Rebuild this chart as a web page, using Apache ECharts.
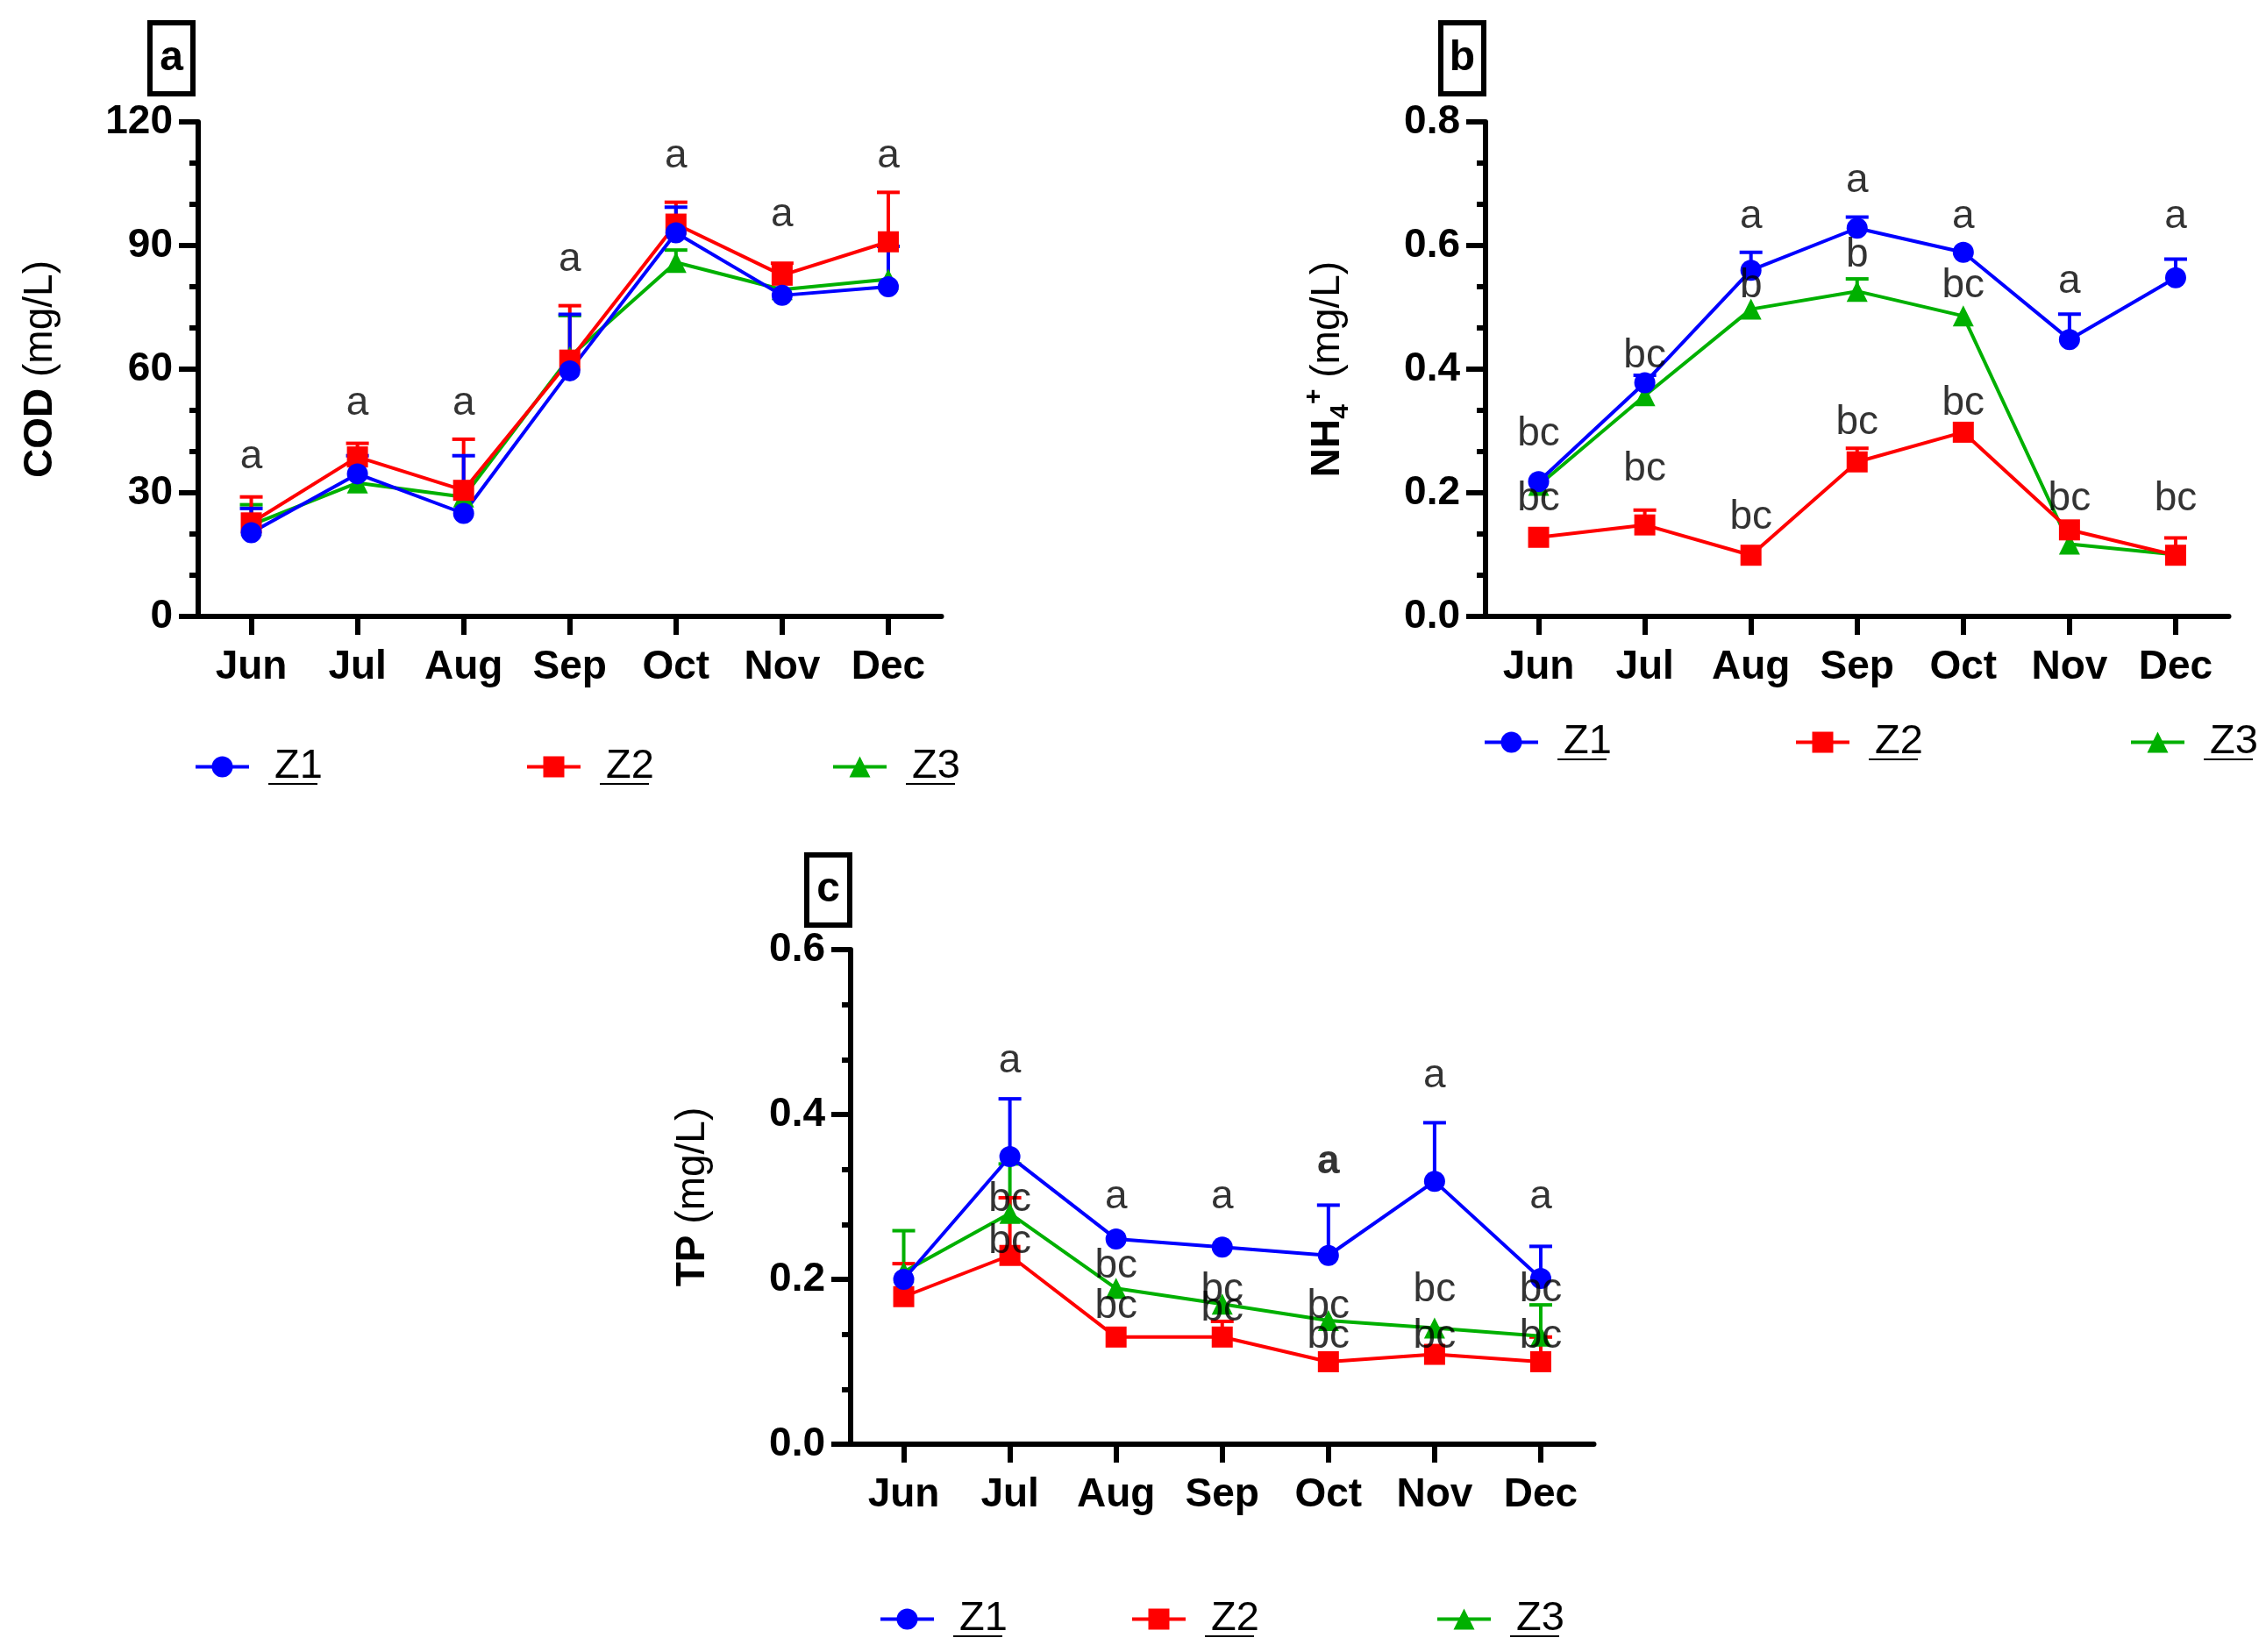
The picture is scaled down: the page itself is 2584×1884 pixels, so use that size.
<!DOCTYPE html>
<html>
<head>
<meta charset="utf-8">
<script src="https://cdn.jsdelivr.net/npm/echarts@6/dist/echarts.min.js"></script>
<style>
html,body{margin:0;padding:0;background:#fff;}
#chart{width:2584px;height:1884px;}
</style>
</head>
<body>
<div id="chart"></div>
<script>
// ---------------- data ----------------
const months = ['Jun','Jul','Aug','Sep','Oct','Nov','Dec'];
const seriesNames = ['Z1','Z2','Z3'];

// COD (mg/L)
const codZ1 = [20.3, 34.6, 25.0, 59.6, 93.1, 77.9, 80.0];
const codZ2 = [22.7, 38.7, 30.6, 62.2, 95.2, 82.8, 90.9];
const codZ3 = [22.2, 32.4, 29.0, 63.0, 85.9, 79.3, 81.8];
const codZ1Up = [26.2, 39.0, 39.0, 73.3, 99.3, null, 89.8];
const codZ2Up = [29.0, 42.0, 43.0, 75.4, 100.5, 85.7, 102.9];
const codZ3Up = [27.1, null, null, 73.0, 88.9, null, null];
const codTicks = ['0','30','60','90','120'];
const codLetters = [['Jun',38.6,'a'],['Jul',51.7,'a'],['Aug',51.7,'a'],['Sep',86.5,'a'],['Oct',111.6,'a'],['Nov',97.3,'a'],['Dec',111.6,'a']];

// NH4+ (mg/L)
const nhZ1 = [0.218, 0.378, 0.560, 0.628, 0.589, 0.448, 0.548];
const nhZ2 = [0.128, 0.148, 0.099, 0.250, 0.298, 0.140, 0.099];
const nhZ3 = [0.212, 0.357, 0.497, 0.526, 0.486, 0.117, 0.100];
const nhZ1Up = [null, 0.390, 0.589, 0.646, null, 0.489, 0.578];
const nhZ2Up = [null, 0.172, null, 0.272, null, null, 0.127];
const nhZ3Up = [null, null, null, 0.546, null, null, null];
const nhTicks = ['0.0','0.2','0.4','0.6','0.8'];
const nhLetters = [
  ['Jun',0.295,'bc'],['Jun',0.189,'bc'],
  ['Jul',0.421,'bc'],['Jul',0.238,'bc'],
  ['Aug',0.647,'a'],['Aug',0.535,'b'],['Aug',0.160,'bc'],
  ['Sep',0.704,'a'],['Sep',0.584,'b'],['Sep',0.313,'bc'],
  ['Oct',0.647,'a'],['Oct',0.535,'bc'],['Oct',0.344,'bc'],
  ['Nov',0.541,'a'],['Nov',0.189,'bc'],
  ['Dec',0.647,'a'],['Dec',0.189,'bc']
];

// TP (mg/L)
const tpZ1 = [0.200, 0.349, 0.249, 0.239, 0.229, 0.319, 0.201];
const tpZ2 = [0.179, 0.229, 0.130, 0.130, 0.100, 0.109, 0.100];
const tpZ3 = [0.209, 0.280, 0.189, 0.170, 0.150, 0.141, 0.131];
const tpZ1Up = [null, 0.419, null, null, 0.290, 0.390, 0.240];
const tpZ2Up = [0.219, 0.299, null, 0.149, null, null, 0.130];
const tpZ3Up = [0.259, 0.340, null, null, null, null, 0.169];
const tpTicks = ['0.0','0.2','0.4','0.6'];
const tpLetters = [
  ['Jul',0.465,'a'],['Jul',0.296,'bc'],['Jul',0.245,'bc'],
  ['Aug',0.300,'a'],['Aug',0.216,'bc'],['Aug',0.167,'bc'],
  ['Sep',0.300,'a'],['Sep',0.187,'bc'],['Sep',0.163,'bc'],
  ['Oct',0.167,'bc'],['Oct',0.131,'bc'],
  ['Nov',0.446,'a'],['Nov',0.187,'bc'],['Nov',0.131,'bc'],
  ['Dec',0.300,'a'],['Dec',0.187,'bc'],['Dec',0.131,'bc']
];
const tpBoldLetters = [['Oct',0.342,'a']];

// ---------------- style ----------------
const F = "'Liberation Sans', Arial, sans-serif";
const colors = {Z1:'#0000FF', Z2:'#FF0000', Z3:'#00B000'};
const symbols = {Z1:'circle', Z2:'rect', Z3:'triangle'};

const panels = [
  {left:226, top:139, max:120, interval:30, ticks:codTicks,
   vals:{Z1:codZ1,Z2:codZ2,Z3:codZ3}, ups:{Z1:codZ1Up,Z2:codZ2Up,Z3:codZ3Up},
   letters:codLetters, bold:[],
   name:'{b|COD} {r|(mg/L)}'},
  {left:1694, top:139, max:0.8, interval:0.2, ticks:nhTicks,
   vals:{Z1:nhZ1,Z2:nhZ2,Z3:nhZ3}, ups:{Z1:nhZ1Up,Z2:nhZ2Up,Z3:nhZ3Up},
   letters:nhLetters, bold:[],
   name:'{b|NH}{sub|4}{sup|+} {r|(mg/L)}'},
  {left:970, top:1083, max:0.6, interval:0.2, ticks:tpTicks,
   vals:{Z1:tpZ1,Z2:tpZ2,Z3:tpZ3}, ups:{Z1:tpZ1Up,Z2:tpZ2Up,Z3:tpZ3Up},
   letters:tpLetters, bold:tpBoldLetters,
   name:'{b|TP} {r|(mg/L)}'}
];

const grids = [], xAxes = [], yAxes = [], series = [];

panels.forEach((p, gi) => {
  grids.push({left:p.left, top:p.top, width:847.5, height:564});
  xAxes.push({
    gridIndex:gi, type:'category', data:months, boundaryGap:true,
    axisLine:{show:true, lineStyle:{color:'#000', width:6}},
    axisTick:{show:true, alignWithLabel:true, length:21, lineStyle:{color:'#000', width:6}},
    axisLabel:{fontFamily:F, fontWeight:'bold', fontSize:46, color:'#000', margin:35},
    splitLine:{show:false}
  });
  yAxes.push({
    gridIndex:gi, type:'value', min:0, max:p.max, interval:p.interval,
    axisLine:{show:true, lineStyle:{color:'#000', width:6}},
    axisTick:{show:true, length:22, lineStyle:{color:'#000', width:6}},
    minorTick:{show:true, splitNumber:3, length:10, lineStyle:{color:'#000', width:6}},
    splitLine:{show:false}, minorSplitLine:{show:false},
    axisLabel:{fontFamily:F, fontWeight:'bold', fontSize:46, color:'#000', margin:29,
      formatter:(v, i) => p.ticks[i]},
    name:p.name, nameLocation:'middle', nameGap:150,
    nameTextStyle:{
      fontFamily:F, fontSize:46, color:'#000',
      rich:{
        b:{fontFamily:F, fontSize:46, fontWeight:'bold', color:'#000', lineHeight:60},
        r:{fontFamily:F, fontSize:46, color:'#000', lineHeight:60},
        sub:{fontFamily:F, fontSize:30, fontWeight:'bold', color:'#000', verticalAlign:'bottom', lineHeight:44},
        sup:{fontFamily:F, fontSize:30, fontWeight:'bold', color:'#000', verticalAlign:'top', lineHeight:30}
      }
    }
  });

  ['Z3','Z2','Z1'].forEach(nm => {
    const col = colors[nm];
    const errData = [];
    p.ups[nm].forEach((u, i) => { if (u != null) errData.push([i, p.vals[nm][i], u]); });
    series.push({
      type:'custom', name:nm + ' SD', xAxisIndex:gi, yAxisIndex:gi, z:2, silent:true,
      encode:{x:0, y:[1,2]},
      data:errData,
      renderItem:(params, api) => {
        const x = api.value(0), m = api.value(1), u = api.value(2);
        const p0 = api.coord([x, m]), p1 = api.coord([x, u]);
        const hw = 13;
        return {type:'group', children:[
          {type:'line', shape:{x1:p0[0], y1:p0[1], x2:p1[0], y2:p1[1]}, style:{stroke:col, lineWidth:4}},
          {type:'line', shape:{x1:p1[0]-hw, y1:p1[1], x2:p1[0]+hw, y2:p1[1]}, style:{stroke:col, lineWidth:4}}
        ]};
      }
    });
    series.push({
      type:'line', name:nm, xAxisIndex:gi, yAxisIndex:gi, z:3,
      data:p.vals[nm], symbol:symbols[nm], symbolSize:24,
      lineStyle:{color:col, width:4}, itemStyle:{color:col},
      showAllSymbol:true
    });
  });

  const mkLetters = (arr, bold) => ({
    type:'scatter', xAxisIndex:gi, yAxisIndex:gi, z:10, silent:true,
    symbolSize:1, itemStyle:{color:'rgba(0,0,0,0)'},
    encode:{x:0, y:1},
    data:arr.map(a => [a[0], a[1], a[2]]),
    label:{show:true, position:'inside', formatter:q => q.value[2],
      fontFamily:F, fontSize:46, color:'#000', fontWeight:bold ? 'bold' : 'normal'}
  });
  series.push(mkLetters(p.letters, false));
  if (p.bold.length) series.push(mkLetters(p.bold, true));
});

// legends: one per item
const legendSpots = [
  ['Z1',216,876],['Z2',594,876],['Z3',943,876],
  ['Z1',1686,848],['Z2',2041,848],['Z3',2423,848],
  ['Z1',997,1848],['Z2',1284,1848],['Z3',1632,1848]
];
const legends = legendSpots.map(s => ({
  data:[s[0]], left:s[1], top:s[2]-30, orient:'horizontal',
  itemWidth:61, itemHeight:30, selectedMode:false,
  lineStyle:{width:4},
  textStyle:{fontFamily:F, fontSize:47, color:'#000', padding:[0,0,0,24]}
}));

const graphics = [];
legendSpots.forEach(s => {
  graphics.push({type:'rect', shape:{x:s[1]+90, y:s[2]+17, width:56, height:2}, style:{fill:'#000'}, silent:true});
});
[['a',171,26,81],['b',1643,26,81],['c',920,975,80]].forEach(b => {
  graphics.push({type:'rect', shape:{x:b[1], y:b[2], width:49, height:b[3]},
    style:{fill:'#fff', stroke:'#000', lineWidth:6}, silent:true});
  graphics.push({type:'text', x:b[1]+24.5, y:b[2]+b[3]/2,
    style:{text:b[0], font:"bold 48px 'Liberation Sans', Arial, sans-serif", fill:'#000', align:'center', verticalAlign:'middle'}, silent:true});
});

const chart = echarts.init(document.getElementById('chart'));
chart.setOption({
  backgroundColor:'#fff',
  animation:false,
  grid:grids, xAxis:xAxes, yAxis:yAxes,
  legend:legends,
  graphic:graphics,
  series:series
});
</script>
</body>
</html>
